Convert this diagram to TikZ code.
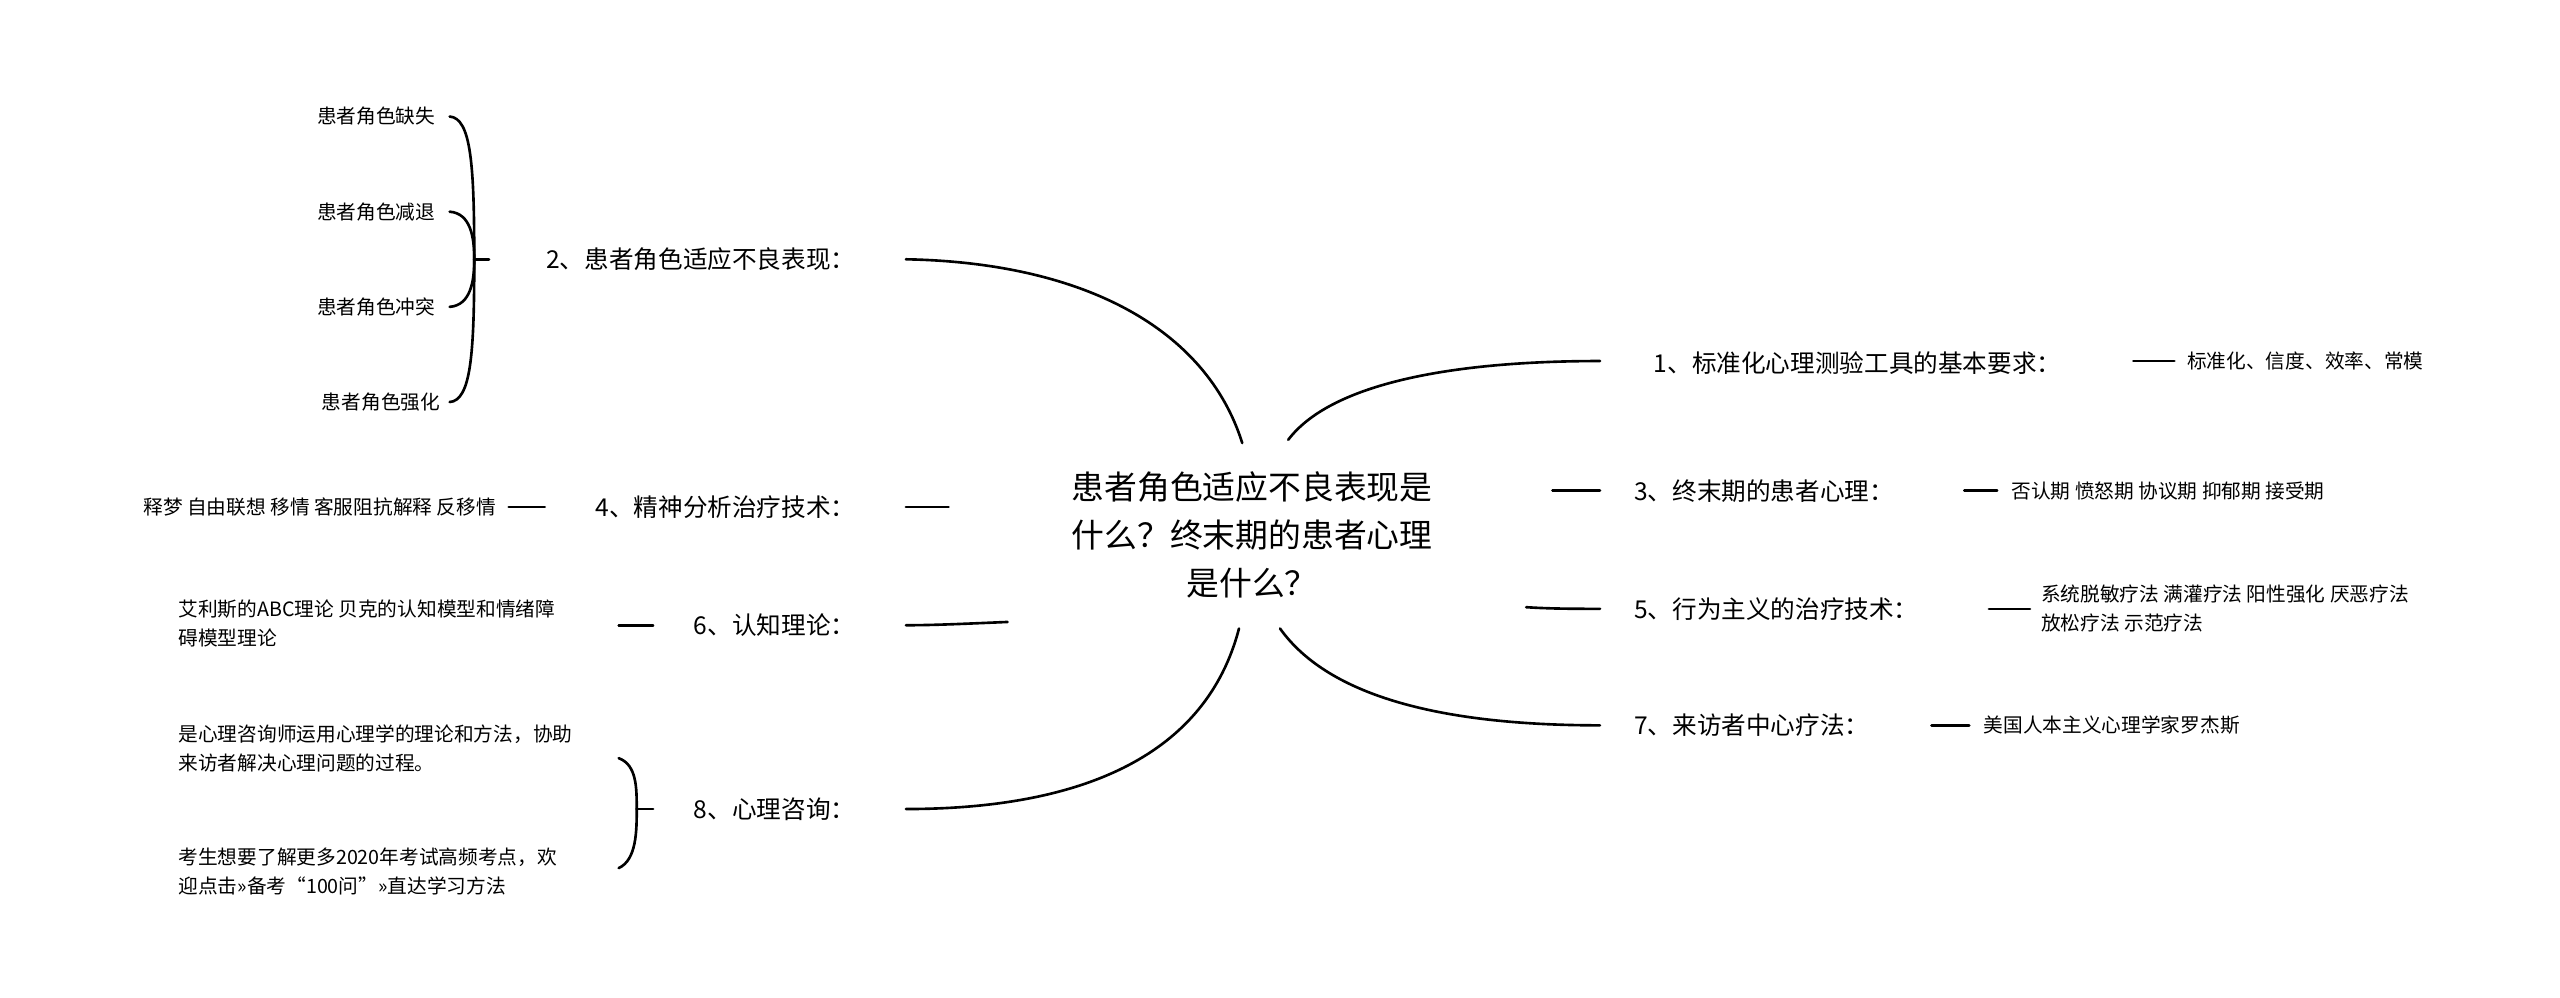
\documentclass[tikz,border=0pt]{standalone}
\usepackage{fontspec}
\setmainfont{Noto Sans CJK SC}
\begin{document}
\begin{tikzpicture}[x=1pt,y=-1pt,line width=1.6pt,line cap=round,
  ctr/.style={font=\fontsize{20}{29}\selectfont,align=center,inner sep=0},
  br/.style={font=\fontsize{15}{23}\selectfont,inner sep=0},
  lf/.style={font=\fontsize{12}{17.5}\selectfont,inner sep=0,align=left}]
\useasboundingbox (0,0) rectangle (1560,607.6);
\node[ctr] (c) at (763,326) {患者角色适应不良表现是\\什么？终末期的患者心理\\是什么？};
% branches
\node[br,anchor=east] (b2) at (522,158) {2、患者角色适应不良表现：};
\node[br,anchor=east] (b4) at (522,309) {4、精神分析治疗技术：};
\node[br,anchor=east] (b6) at (522,381) {6、认知理论：};
\node[br,anchor=east] (b8) at (522,493) {8、心理咨询：};
\node[br,anchor=west,align=left,text width=260] (b1) at (1007,221) {1、标准化心理测验工具的基本要求：};
\node[br,anchor=west] (b3) at (995,299) {3、终末期的患者心理：};
\node[br,anchor=west] (b5) at (995,371) {5、行为主义的治疗技术：};
\node[br,anchor=west] (b7) at (995,442) {7、来访者中心疗法：};
\coordinate (p2) at (552,158);\coordinate (p4) at (552,309);\coordinate (p6) at (552,381);\coordinate (p8) at (552,493);
\coordinate (p1) at (975,220);\coordinate (p3) at (975,299);\coordinate (p5) at (975,371);\coordinate (p7) at (975,442);
\draw (757,270) .. controls (735,200) and (660,160) .. (p2);
\draw (578,309) -- (p4);
\draw (614,379) .. controls (590,380) and (570,381) .. (p6);
\draw (755,383) .. controls (735,460) and (660,493) .. (p8);
\draw (785,268) .. controls (810,235) and (880,220) .. (p1);
\draw (946,299) -- (p3);
\draw (930,370) .. controls (945,371) and (960,371) .. (p5);
\draw (780,383) .. controls (810,425) and (880,442) .. (p7);
% right leaves
\node[lf,anchor=west] (l1) at (1332,220) {标准化、信度、效率、常模};
\draw (1300,220) -- (1325,220);
\node[lf,anchor=west] (l3) at (1225,299) {否认期 愤怒期 协议期 抑郁期 接受期};
\draw (1197,299) -- (1217,299);
\node[lf,anchor=west] (l5) at (1243,371) {系统脱敏疗法 满灌疗法 阳性强化 厌恶疗法\\放松疗法 示范疗法};
\draw (1212,371) -- (1237,371);
\node[lf,anchor=west] (l7) at (1208,442) {美国人本主义心理学家罗杰斯};
\draw (1177,442) -- (1200,442);
% left leaves of 2
\node[lf,anchor=east] (a1) at (266,71) {患者角色缺失};
\node[lf,anchor=east] (a2) at (266,129) {患者角色减退};
\node[lf,anchor=east] (a3) at (266,187) {患者角色冲突};
\node[lf,anchor=east] (a4) at (269,245) {患者角色强化};
\coordinate (s2) at (289,158);
\draw (s2) -- (298,158);
\draw (274,71) .. controls (287,72) and (289,100) .. (s2);
\draw (274,129) .. controls (287,130) and (289,145) .. (s2);
\draw (274,187) .. controls (287,186) and (289,171) .. (s2);
\draw (274,245) .. controls (287,244) and (289,216) .. (s2);
\node[lf,anchor=east] (a5) at (303,309) {释梦 自由联想 移情 客服阻抗解释 反移情};
\draw (310,309) -- (332,309);
\node[lf,anchor=west] (a6) at (108,380) {艾利斯的ABC理论 贝克的认知模型和情绪障\\碍模型理论};
\draw (377,381) -- (398,381);
\node[lf,anchor=west] (a7) at (108,456) {是心理咨询师运用心理学的理论和方法，协助\\来访者解决心理问题的过程。};
\node[lf,anchor=west] (a8) at (108,531) {考生想要了解更多2020年考试高频考点，欢\\迎点击>>备考“100问”>>直达学习方法};
\coordinate (s8) at (388,493);
\draw (s8) -- (398,493);
\draw (377,462) .. controls (388,466) and (388,480) .. (s8);
\draw (377,529) .. controls (388,524) and (388,506) .. (s8);
\end{tikzpicture}
\end{document}
